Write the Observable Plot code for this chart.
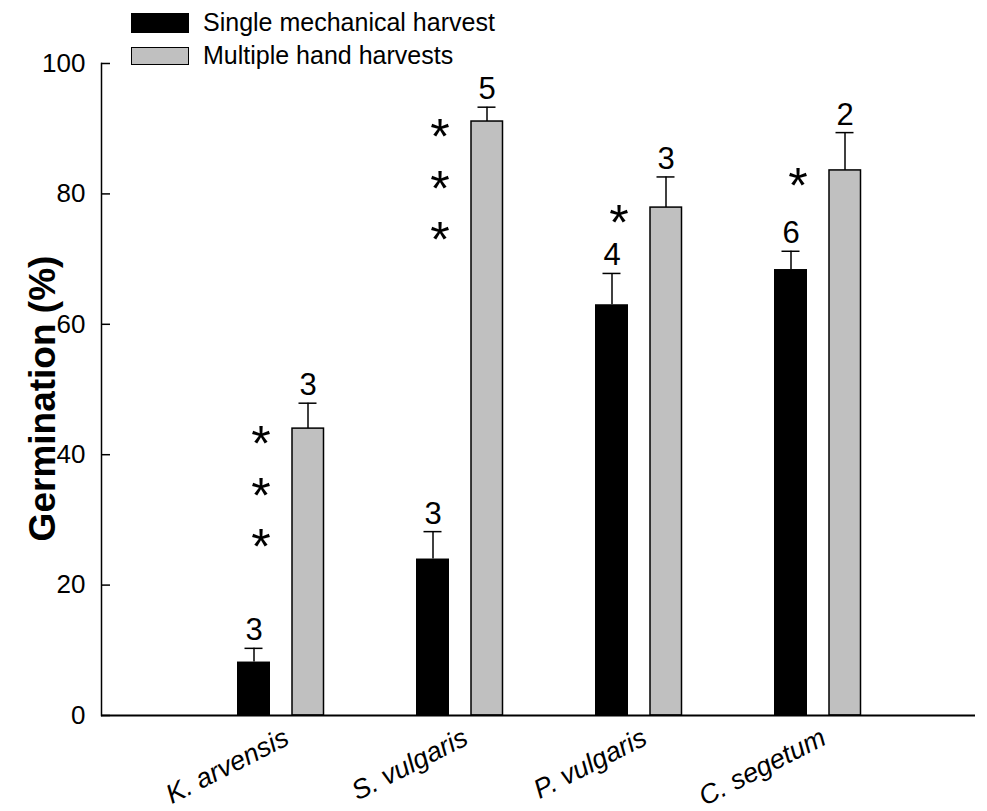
<!DOCTYPE html>
<html>
<head>
<meta charset="utf-8">
<script src="https://cdn.jsdelivr.net/npm/d3@7"></script>
<script src="https://cdn.jsdelivr.net/npm/@observablehq/plot@0.6"></script>
<style>
  body { margin: 0; background: #fff; font-family: "Liberation Sans", Arial, sans-serif; }
  #wrap { position: relative; width: 987px; height: 811px; }
  .legend { position: absolute; left: 131px; top: 0; font-size: 25px; color: #000; }
  .legend .item { position: absolute; left: 0; white-space: nowrap; }
  .legend .swatch { position: absolute; left: 0; width: 58px; box-sizing: border-box; }
  .legend .label { position: absolute; left: 72px; line-height: 1; }
</style>
</head>
<body>
<div id="wrap"></div>
<script>
// Germination of seed lots by harvest method (mean ± SE, n above bars)
const species   = ["K. arvensis", "S. vulgaris", "P. vulgaris", "C. segetum"];
const mechMean  = [8.2, 24.0, 63.0, 68.4];
const mechSE    = [2.1, 4.2, 4.8, 2.8];
const mechN     = [3, 3, 4, 6];
const handMean  = [44.0, 91.1, 77.9, 83.6];
const handSE    = [3.9, 2.2, 4.7, 5.8];
const handN     = [3, 5, 3, 2];
const signif    = ["***", "***", "*", "*"];
const yTicks    = [0, 20, 40, 60, 80, 100];
const seriesNames = ["Single mechanical harvest", "Multiple hand harvests"];
const yTitle    = "Germination (%)";

const rows = species.map((s, i) => ({
  species: s,
  mech: mechMean[i], mechTop: mechMean[i] + mechSE[i], mechN: mechN[i],
  hand: handMean[i], handTop: handMean[i] + handSE[i], handN: handN[i]
}));

// one row per significance star, stacked down beside the hand-harvest bar
const stars = rows.flatMap((r, i) =>
  Array.from(signif[i], (c, k) => ({species: r.species, y: r.hand, k, c})));

const font = "Liberation Sans, Arial, sans-serif";
const starSize = 50;

const starMarks = [0, 1, 2].map(k =>
  Plot.text(stars.filter(d => d.k === k), {
    x: "species", y: "y", text: "c",
    dx: -20, dy: 4 + 51.5 * k + 0.25 * starSize,
    fontSize: starSize, lineAnchor: "middle", fill: "#000"
  }));

const chart = Plot.plot({
  width: 987,
  height: 811,
  marginTop: 63,
  marginBottom: 96,
  marginLeft: 101,
  marginRight: 12,
  style: {fontFamily: font, fontSize: "26px", color: "#000", background: "#fff", overflow: "visible"},
  x: {domain: species, range: [190.8, 906.8], padding: 0, axis: null},
  y: {domain: [0, 100], axis: null},
  marks: [
    // y axis: inward ticks and labels
    Plot.axisY(yTicks, {anchor: "left", tickSize: -9, tickPadding: 25, fontSize: 26, label: null, strokeWidth: 1.5}),
    Plot.frame({anchor: "left", strokeWidth: 1.5}),
    // y title
    Plot.text([yTitle], {frameAnchor: "left", textAnchor: "middle", lineAnchor: "middle", rotate: -90,
      dx: -58, dy: 9, fontSize: 37, fontWeight: "bold"}),

    // bars
    Plot.barY(rows, {x: "species", y: "mech", fill: "#000", insetLeft: 46, insetRight: 100}),
    Plot.barY(rows, {x: "species", y: "hand", fill: "#c0c0c0", stroke: "#000", strokeWidth: 1.5,
      insetLeft: 101, insetRight: 46.5}),

    // error bars
    Plot.ruleX(rows, {x: "species", y1: "mech", y2: "mechTop", dx: -27, strokeWidth: 1.5}),
    Plot.tickY(rows, {x: "species", y: "mechTop", insetLeft: 53.5, insetRight: 107.5, strokeWidth: 1.5}),
    Plot.ruleX(rows, {x: "species", y1: "hand", y2: "handTop", dx: 27, strokeWidth: 1.5}),
    Plot.tickY(rows, {x: "species", y: "handTop", insetLeft: 107.5, insetRight: 53.5, strokeWidth: 1.5}),

    // sample sizes
    Plot.text(rows, {x: "species", y: "mechTop", text: "mechN", dx: -27, dy: -8, lineAnchor: "bottom", fontSize: 31}),
    Plot.text(rows, {x: "species", y: "handTop", text: "handN", dx: 27, dy: -8, lineAnchor: "bottom", fontSize: 31}),

    ...starMarks,

    // baseline
    Plot.ruleY([0], {strokeWidth: 2}),

    // species labels
    Plot.text(species, {x: d => d, frameAnchor: "bottom", rotate: -27, textAnchor: "end", lineAnchor: "top",
      dx: 1, dy: 11, fontSize: 27, fontStyle: "italic"})
  ]
});

const wrap = document.getElementById("wrap");
wrap.appendChild(chart);

// legend
const legend = document.createElement("div");
legend.className = "legend";
const swatches = [
  {top: 13, height: 20, style: "background:#000;"},
  {top: 47, height: 18, style: "background:#c0c0c0;border:1.5px solid #000;"}
];
seriesNames.forEach((name, i) => {
  const it = document.createElement("div");
  it.className = "item";
  it.style.top = swatches[i].top + "px";
  const sw = document.createElement("div");
  sw.className = "swatch";
  sw.style.cssText += swatches[i].style + "height:" + swatches[i].height + "px;top:0;";
  const lb = document.createElement("div");
  lb.className = "label";
  lb.textContent = name;
  lb.style.top = (swatches[i].height / 2 - 13) + "px";
  it.appendChild(sw);
  it.appendChild(lb);
  legend.appendChild(it);
});
wrap.appendChild(legend);
</script>
</body>
</html>
